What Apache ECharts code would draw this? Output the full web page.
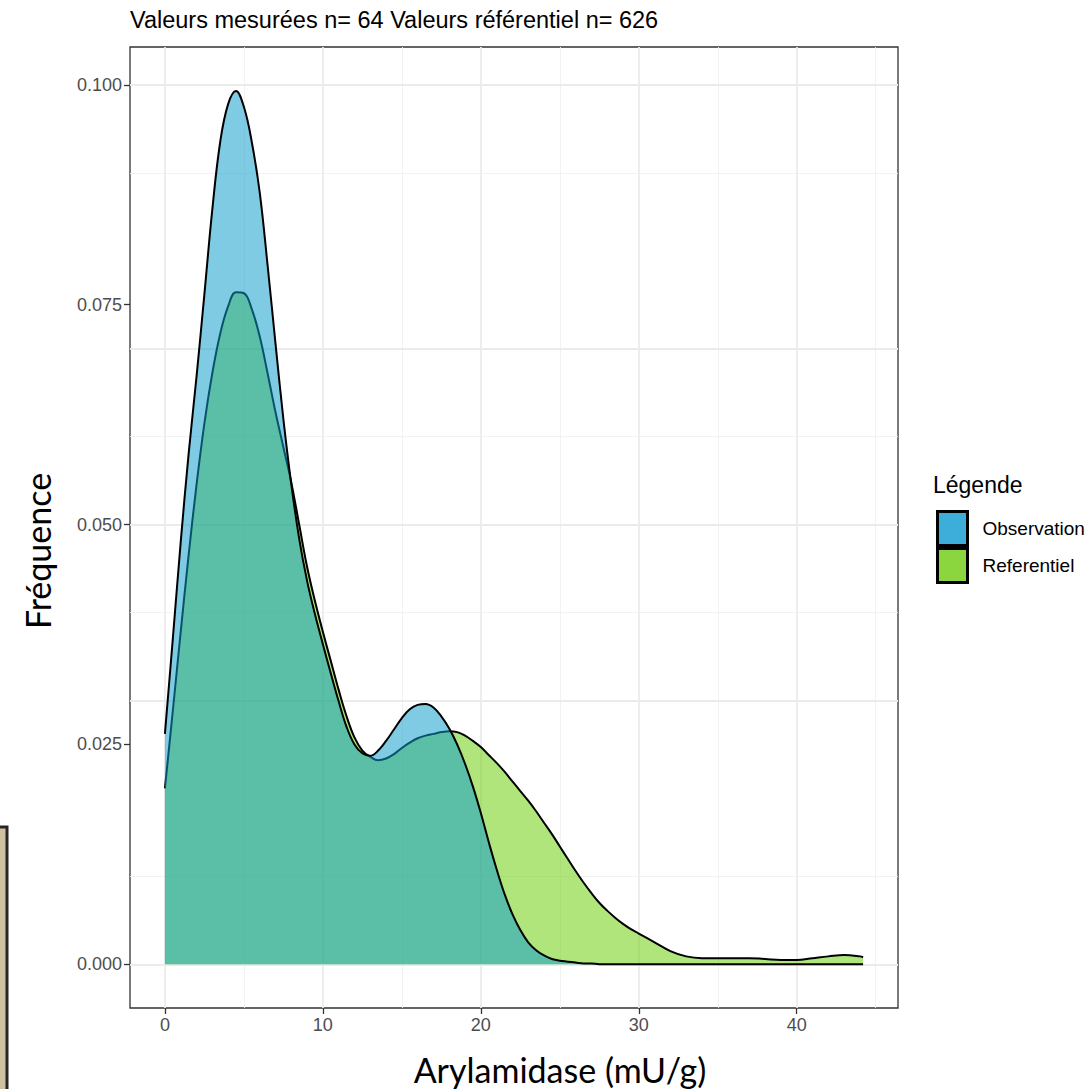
<!DOCTYPE html>
<html>
<head>
<meta charset="utf-8">
<script src="https://cdn.jsdelivr.net/npm/echarts@6/dist/echarts.min.js"></script>
<style>
  html, body { margin: 0; padding: 0; background: #ffffff; }
  #chart { width: 1088px; height: 1089px; }
</style>
</head>
<body>
<div id="chart"></div>
<script>
var xVals = [0, 0.5, 1, 1.5, 2, 2.5, 3, 3.5, 4, 4.5,
  5, 5.5, 6, 6.5, 7, 7.5, 8, 8.5, 9, 9.5,
  10, 10.5, 11, 11.5, 12, 12.5, 13, 13.5, 14, 14.5,
  15, 15.5, 16, 16.5, 17, 17.5, 18, 18.5, 19, 19.5,
  20, 20.5, 21, 21.5, 22, 22.5, 23, 23.5, 24, 24.5,
  25, 25.5, 26, 26.5, 27, 27.5, 28, 28.5, 29, 29.5,
  30,
  31, 32, 33, 34, 35, 36, 37, 38, 39, 40, 41, 42, 43, 44,
  44.2];

var obsY = [0.0262, 0.0370, 0.0480, 0.0580, 0.0668, 0.0762, 0.0858, 0.0935, 0.0978, 0.0993,
  0.0975, 0.0935, 0.0878, 0.0795, 0.0706, 0.0620, 0.0546, 0.0484, 0.0436, 0.0398,
  0.0364, 0.0331, 0.0299, 0.0270, 0.0250, 0.0240, 0.0237, 0.0243, 0.0254, 0.0267,
  0.0280, 0.0290, 0.0295, 0.0296, 0.0292, 0.0282, 0.0268, 0.0250, 0.0228, 0.0202,
  0.0172, 0.0139, 0.0108, 0.0080, 0.0057, 0.0039, 0.0025, 0.0016, 0.0010, 0.0006,
  0.0004, 0.0003, 0.0002, 0.0001, 0.0001, 0, 0, 0, 0, 0,
  0,
  0, 0, 0, 0, 0, 0, 0, 0, 0, 0, 0, 0, 0, 0,
  0];

var refY = [0.0200, 0.0288, 0.0378, 0.0465, 0.0545, 0.0615, 0.0672, 0.0717, 0.0748, 0.0764,
  0.0763, 0.0745, 0.0714, 0.0672, 0.0628, 0.0588, 0.0548, 0.0500, 0.0452, 0.0413,
  0.0378, 0.0345, 0.0312, 0.0282, 0.0258, 0.0243, 0.0236, 0.0232, 0.0234, 0.0239,
  0.0246, 0.0252, 0.0257, 0.0260, 0.0262, 0.0264, 0.0265, 0.0264, 0.0260, 0.0254,
  0.0247, 0.0238, 0.0229, 0.0219, 0.0208, 0.0197, 0.0186, 0.0174, 0.0161, 0.0148,
  0.0134, 0.0120, 0.0106, 0.0093, 0.0081, 0.0070, 0.0061, 0.0053, 0.0046, 0.0040,
  0.0035,
  0.0025, 0.0015, 0.0009, 0.0007, 0.0007, 0.0007, 0.0007, 0.0006, 0.0005, 0.0005, 0.0007, 0.0009, 0.00105, 0.0009,
  0.0008];

// ticks and grid lines
var xTicks = [0, 10, 20, 30, 40];
var xMinor = [5, 15, 25, 35, 45];
var yTicks = [0, 0.025, 0.05, 0.075, 0.1];
var yMinor = [0.0125, 0.0375, 0.0625, 0.0875];

var seriesNames = ["Observation", "Referentiel"];
var keyColors = ["#3DAED9", "#8BD63F"];

function pairs(xs, ys) {
  return xs.map(function (x, i) { return [x, ys[i]]; });
}

var majorLine = { color: "#EBEBEB", width: 1.8, type: "solid" };
var minorLine = { color: "#F0F0F0", width: 0.9, type: "solid" };
var gridLines = []
  .concat(xMinor.map(function (v) { return { xAxis: v, lineStyle: minorLine }; }))
  .concat(yMinor.map(function (v) { return { yAxis: v, lineStyle: minorLine }; }))
  .concat(xTicks.map(function (v) { return { xAxis: v, lineStyle: majorLine }; }))
  .concat(yTicks.map(function (v) { return { yAxis: v, lineStyle: majorLine }; }));

var chart = echarts.init(document.getElementById("chart"), null, { renderer: "svg" });

var option = {
  animation: false,
  backgroundColor: "#ffffff",
  title: [
    {
      text: "Valeurs mesurées n= 64 Valeurs référentiel n= 626",
      left: 130,
      top: 8,
      padding: 0,
      textStyle: { fontFamily: "Liberation Sans", fontSize: 23.5, fontWeight: "normal", color: "#000000" },
    },
    {
      text: "Légende",
      left: 933,
      top: 473,
      padding: 0,
      textStyle: { fontFamily: "Liberation Sans", fontSize: 23, fontWeight: "normal", color: "#000000" },
    },
  ],
  graphic: [
    {
      type: "text",
      x: 37,
      y: 551,
      rotation: Math.PI / 2,
      style: { text: "Fréquence", fill: "#000000", font: "34px Lato", align: "center", verticalAlign: "middle" },
    },
    {
      type: "text",
      x: 560,
      y: 1069,
      style: { text: "Arylamidase (mU/g)", fill: "#000000", font: "34px Lato", align: "center", verticalAlign: "middle" },
    },
    {
      // scrap of a frame at the lower-left edge of the screenshot
      type: "rect",
      shape: { x: -2, y: 827, width: 9, height: 264 },
      style: { fill: "#cfc0a0", stroke: "#262626", lineWidth: 3 },
    },
  ],
  legend: {
    orient: "vertical",
    left: 936,
    top: 510,
    padding: 0,
    itemGap: 0,
    itemWidth: 30,
    itemHeight: 34,
    icon: "rect",
    selectedMode: false,
    itemStyle: { borderColor: "#000000", borderWidth: 3 },
    textStyle: { fontFamily: "Liberation Sans", fontSize: 19, color: "#000000", padding: [0, 0, 0, 10] },
    data: seriesNames.map(function (n, i) {
      return { name: n, itemStyle: { color: keyColors[i] } };
    }),
  },
  grid: {
    left: 130,
    top: 47,
    width: 768,
    height: 961,
    show: true,
    backgroundColor: "#ffffff",
    borderColor: "#333333",
    borderWidth: 1.3,
  },
  xAxis: {
    type: "value",
    min: -2.21,
    max: 46.41,
    axisLine: { show: false, onZero: false },
    splitLine: { show: false },
    axisTick: { show: true, customValues: xTicks, length: 6, lineStyle: { color: "#333333", width: 1.3 } },
    axisLabel: { customValues: xTicks, color: "#4D4D4D", fontFamily: "Liberation Sans", fontSize: 18, margin: 8 },
  },
  yAxis: {
    type: "value",
    min: -0.00497,
    max: 0.1043,
    axisLine: { show: false, onZero: false },
    splitLine: { show: false },
    axisTick: { show: true, customValues: yTicks, length: 6, lineStyle: { color: "#333333", width: 1.3 } },
    axisLabel: {
      customValues: yTicks,
      color: "#4D4D4D",
      fontFamily: "Liberation Sans",
      fontSize: 18,
      margin: 8,
      formatter: function (v) { return v.toFixed(3); },
    },
  },
  series: [
    {
      name: "grid",
      type: "line",
      data: [],
      z: 0,
      silent: true,
      markLine: {
        z: 0,
        silent: true,
        symbol: ["none", "none"],
        label: { show: false },
        emphasis: { disabled: true },
        data: gridLines,
      },
    },
    {
      name: "Referentiel",
      type: "line",
      z: 2,
      data: pairs(xVals, refY),
      smooth: 0.4,
      showSymbol: false,
      symbol: "none",
      lineStyle: { color: "#000000", width: 2 },
      itemStyle: { color: keyColors[1] },
      areaStyle: { color: "rgba(106,206,8,0.53)", opacity: 1 },
      emphasis: { disabled: true },
    },
    {
      name: "Observation",
      type: "line",
      z: 3,
      data: pairs(xVals, obsY),
      smooth: 0.4,
      showSymbol: false,
      symbol: "none",
      lineStyle: { color: "#000000", width: 2 },
      itemStyle: { color: keyColors[0] },
      areaStyle: { color: "rgba(13,157,204,0.53)", opacity: 1 },
      emphasis: { disabled: true },
    },
  ],
};
chart.setOption(option);
</script>
</body>
</html>
